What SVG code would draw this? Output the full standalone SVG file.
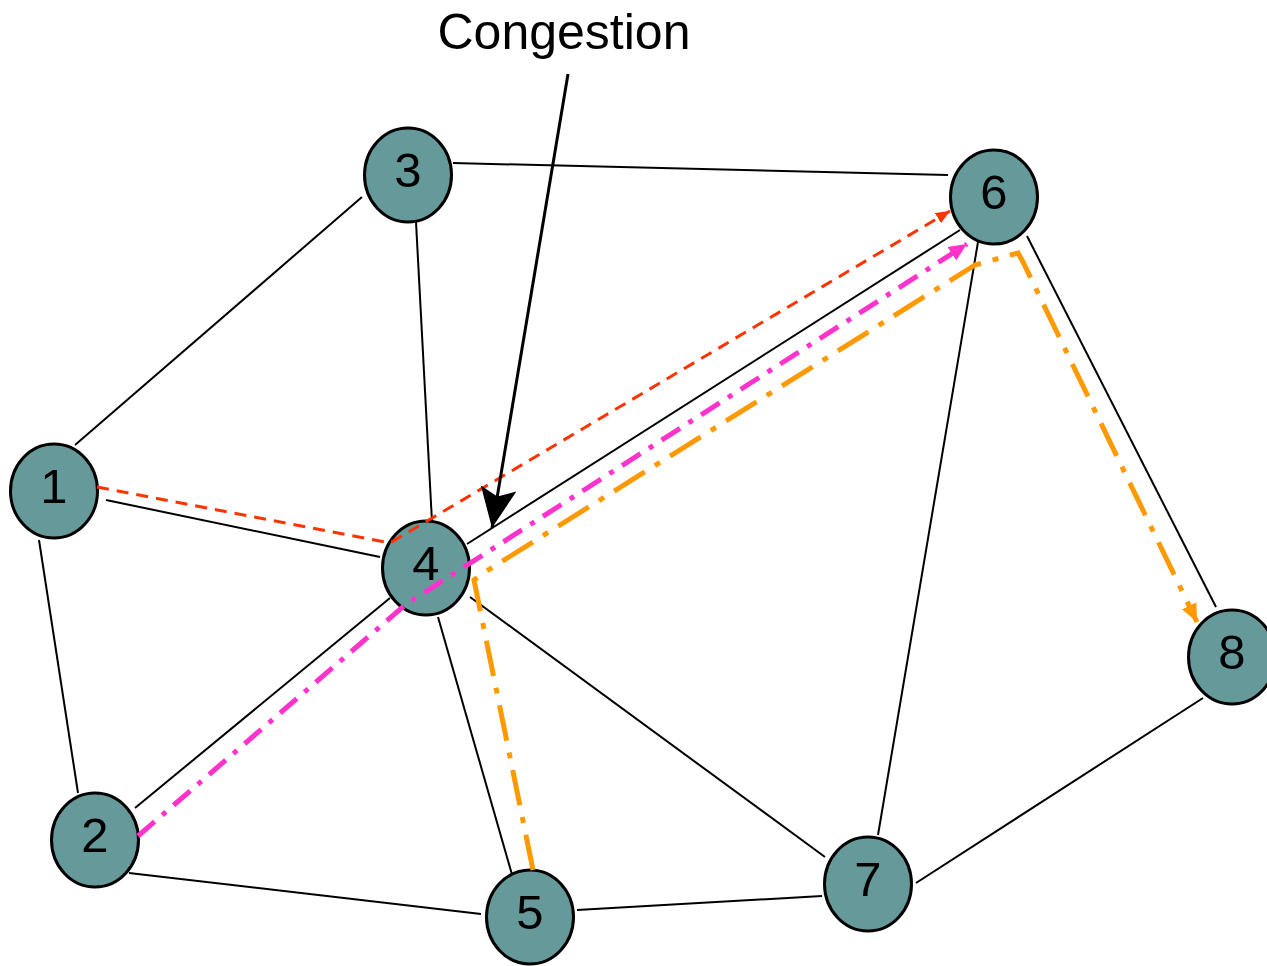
<svg xmlns="http://www.w3.org/2000/svg" width="1267" height="966" viewBox="0 0 1267 966">
<style>
.edge{stroke:#000;stroke-width:2;fill:none}
.node ellipse{fill:#669999;stroke:#000;stroke-width:3}
.node text{font-family:"Liberation Sans",Arial,sans-serif;font-size:49px;text-anchor:middle;fill:#000}
.red{stroke:#FF3300;stroke-width:3;fill:none;stroke-dasharray:12 8}
.mag{stroke:#FF33CC;stroke-width:5;fill:none;stroke-dasharray:22 10 5 10}
.org{stroke:#FF9900;stroke-width:5;fill:none;stroke-dasharray:36 12 6 12}
.label{font-family:"Liberation Sans",Arial,sans-serif;font-size:50px;fill:#000;text-anchor:middle}
</style>
<defs>
<marker id="arrBlack" markerUnits="userSpaceOnUse" markerWidth="44" markerHeight="40" viewBox="0 -20 44 40" refX="40" refY="0" orient="auto">
<path d="M0,-18 L40,0 L0,18 L8,0 Z" fill="#000"/>
</marker>
<marker id="arrRed" markerUnits="userSpaceOnUse" markerWidth="16" markerHeight="14" viewBox="0 -7 16 14" refX="14" refY="0" orient="auto">
<path d="M0,-6 L14,0 L0,6 Z" fill="#FF3300"/>
</marker>
<marker id="arrMag" markerUnits="userSpaceOnUse" markerWidth="20" markerHeight="20" viewBox="0 -10 20 20" refX="18" refY="0" orient="auto">
<path d="M0,-8 L18,0 L0,8 Z" fill="#FF33CC"/>
</marker>
<marker id="arrOrg" markerUnits="userSpaceOnUse" markerWidth="20" markerHeight="20" viewBox="0 -10 20 20" refX="18" refY="0" orient="auto">
<path d="M0,-8 L18,0 L0,8 Z" fill="#FF9900"/>
</marker>
</defs>
<g id="edges">
<line class="edge" x1="453" y1="163" x2="948" y2="175"/>
<line class="edge" x1="75" y1="445" x2="362" y2="197"/>
<line class="edge" x1="416" y1="222" x2="432" y2="522"/>
<line class="edge" x1="106" y1="500" x2="380" y2="557"/>
<line class="edge" x1="39" y1="540" x2="78" y2="793"/>
<line class="edge" x1="467" y1="544" x2="960" y2="230"/>
<line class="edge" x1="135" y1="808" x2="390" y2="598"/>
<line class="edge" x1="438" y1="617" x2="513" y2="878"/>
<line class="edge" x1="470" y1="597" x2="825" y2="857"/>
<line class="edge" x1="978" y1="242" x2="878" y2="835"/>
<line class="edge" x1="1027" y1="236" x2="1216" y2="607"/>
<line class="edge" x1="129" y1="873" x2="481" y2="914"/>
<line class="edge" x1="577" y1="910" x2="822" y2="896"/>
<line class="edge" x1="916" y1="883" x2="1203" y2="698"/>
</g>
<g id="node1" class="node"><ellipse cx="54" cy="491" rx="43.5" ry="47"/><text x="54" y="503">1</text></g>
<g id="node2" class="node"><ellipse cx="95" cy="840" rx="43.5" ry="47"/><text x="95" y="852">2</text></g>
<g id="node3" class="node"><ellipse cx="408" cy="175" rx="43.5" ry="47"/><text x="408" y="187">3</text></g>
<g id="node4" class="node"><ellipse cx="426" cy="568" rx="43.5" ry="47"/><text x="426" y="580">4</text></g>
<g id="node5" class="node"><ellipse cx="530" cy="917" rx="43.5" ry="47"/><text x="530" y="929">5</text></g>
<g id="node6" class="node"><ellipse cx="994" cy="197" rx="43.5" ry="47"/><text x="994" y="209">6</text></g>
<g id="node7" class="node"><ellipse cx="868" cy="884" rx="43.5" ry="47"/><text x="868" y="896">7</text></g>
<g id="node8" class="node"><ellipse cx="1232" cy="657" rx="43.5" ry="47"/><text x="1232" y="669">8</text></g>
<g id="flows">
<polyline class="red" points="97,487 390,543 950,211" marker-end="url(#arrRed)"/>
<polyline class="mag" points="138,836 405,605 967,244" marker-end="url(#arrMag)"/>
<polyline class="org" points="533,870 474,580 485,572 975,265 1018,253 1023,262 1197,622" marker-end="url(#arrOrg)"/>
</g>
<g id="congestion">
<text class="label" x="564" y="49">Congestion</text>
<line x1="568" y1="74" x2="492" y2="528" stroke="#000" stroke-width="3" marker-end="url(#arrBlack)"/>
</g>
</svg>
